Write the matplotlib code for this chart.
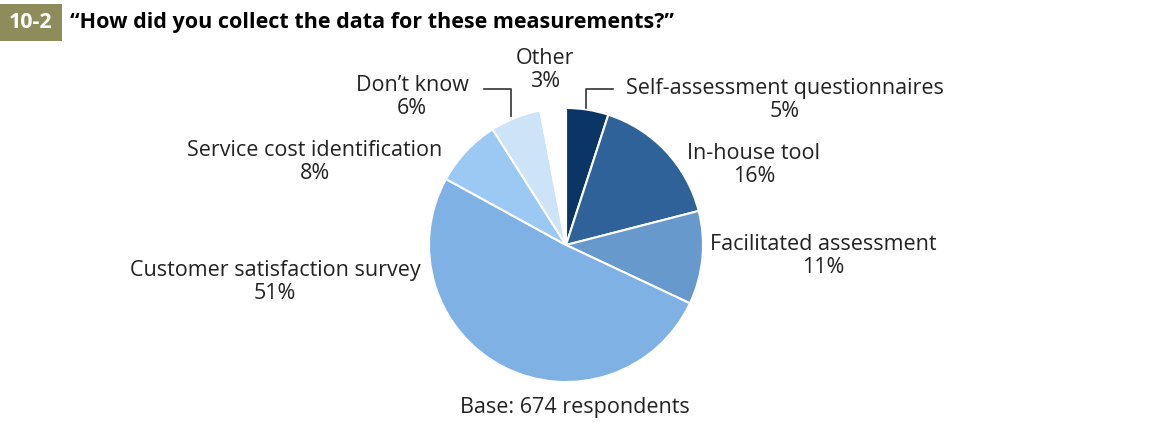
import matplotlib.pyplot as plt
from matplotlib.patches import Rectangle

plt.rcParams['font.family'] = ['Open Sans', 'DejaVu Sans']

categories = ["Self-assessment questionnaires", "In-house tool", "Facilitated assessment",
              "Customer satisfaction survey", "Service cost identification", "Don\u2019t know", "Other"]
shares = [5, 16, 11, 51, 8, 6, 3]
colors = ["#0b3565", "#2f6299", "#6899cd", "#80b1e4", "#9bc9f3", "#cde3f8", "#ffffff"]

W, H = 1151, 423
fig = plt.figure(figsize=(W / 100, H / 100), dpi=100)
ax = fig.add_axes([0, 0, 1, 1])


def py(y):
    # pixel rows run downward
    return H - y


# pie
cx, cy, r = 566, 245, 137
ax.pie(shares, colors=colors, startangle=90, counterclock=False,
       center=(cx, py(cy)), radius=r, frame=True,
       wedgeprops=dict(edgecolor='white', linewidth=1.5))
ax.set_xlim(0, W)
ax.set_ylim(0, H)
ax.set_aspect('equal')
ax.axis('off')

# header
ax.add_patch(Rectangle((0, py(41)), 62, 37, color="#8f8c5c", lw=0))
ax.text(31, py(22), "10-2", color='white', fontsize=15.5, fontweight='bold',
        ha='center', va='center')
ax.text(70, py(22), "\u201cHow did you collect the data for these measurements?\u201d",
        color='black', fontsize=15.5, fontweight='bold', ha='left', va='center')

tc = "#222222"
fs = 15.5
label_pos = {
    "Self-assessment questionnaires": (785, 100),
    "In-house tool": (754, 165),
    "Facilitated assessment": (823, 256),
    "Customer satisfaction survey": (275, 282),
    "Service cost identification": (315, 162),
    "Don\u2019t know": (412, 97),
    "Other": (545, 70),
}
for cat, val in zip(categories, shares):
    x, y = label_pos[cat]
    ax.text(x, py(y), f"{cat}\n{val}%", ha='center', va='center', fontsize=fs,
            color=tc, linespacing=1.08)

# leader lines
ax.plot([613, 586, 586], [py(89), py(89), py(108)], color='#333333', lw=1.2)
ax.plot([484, 511, 511], [py(89), py(89), py(116)], color='#333333', lw=1.2)

ax.text(575, py(407), "Base: 674 respondents", ha='center', va='center',
        fontsize=fs, color=tc)

fig.savefig("out.png", dpi=100)
